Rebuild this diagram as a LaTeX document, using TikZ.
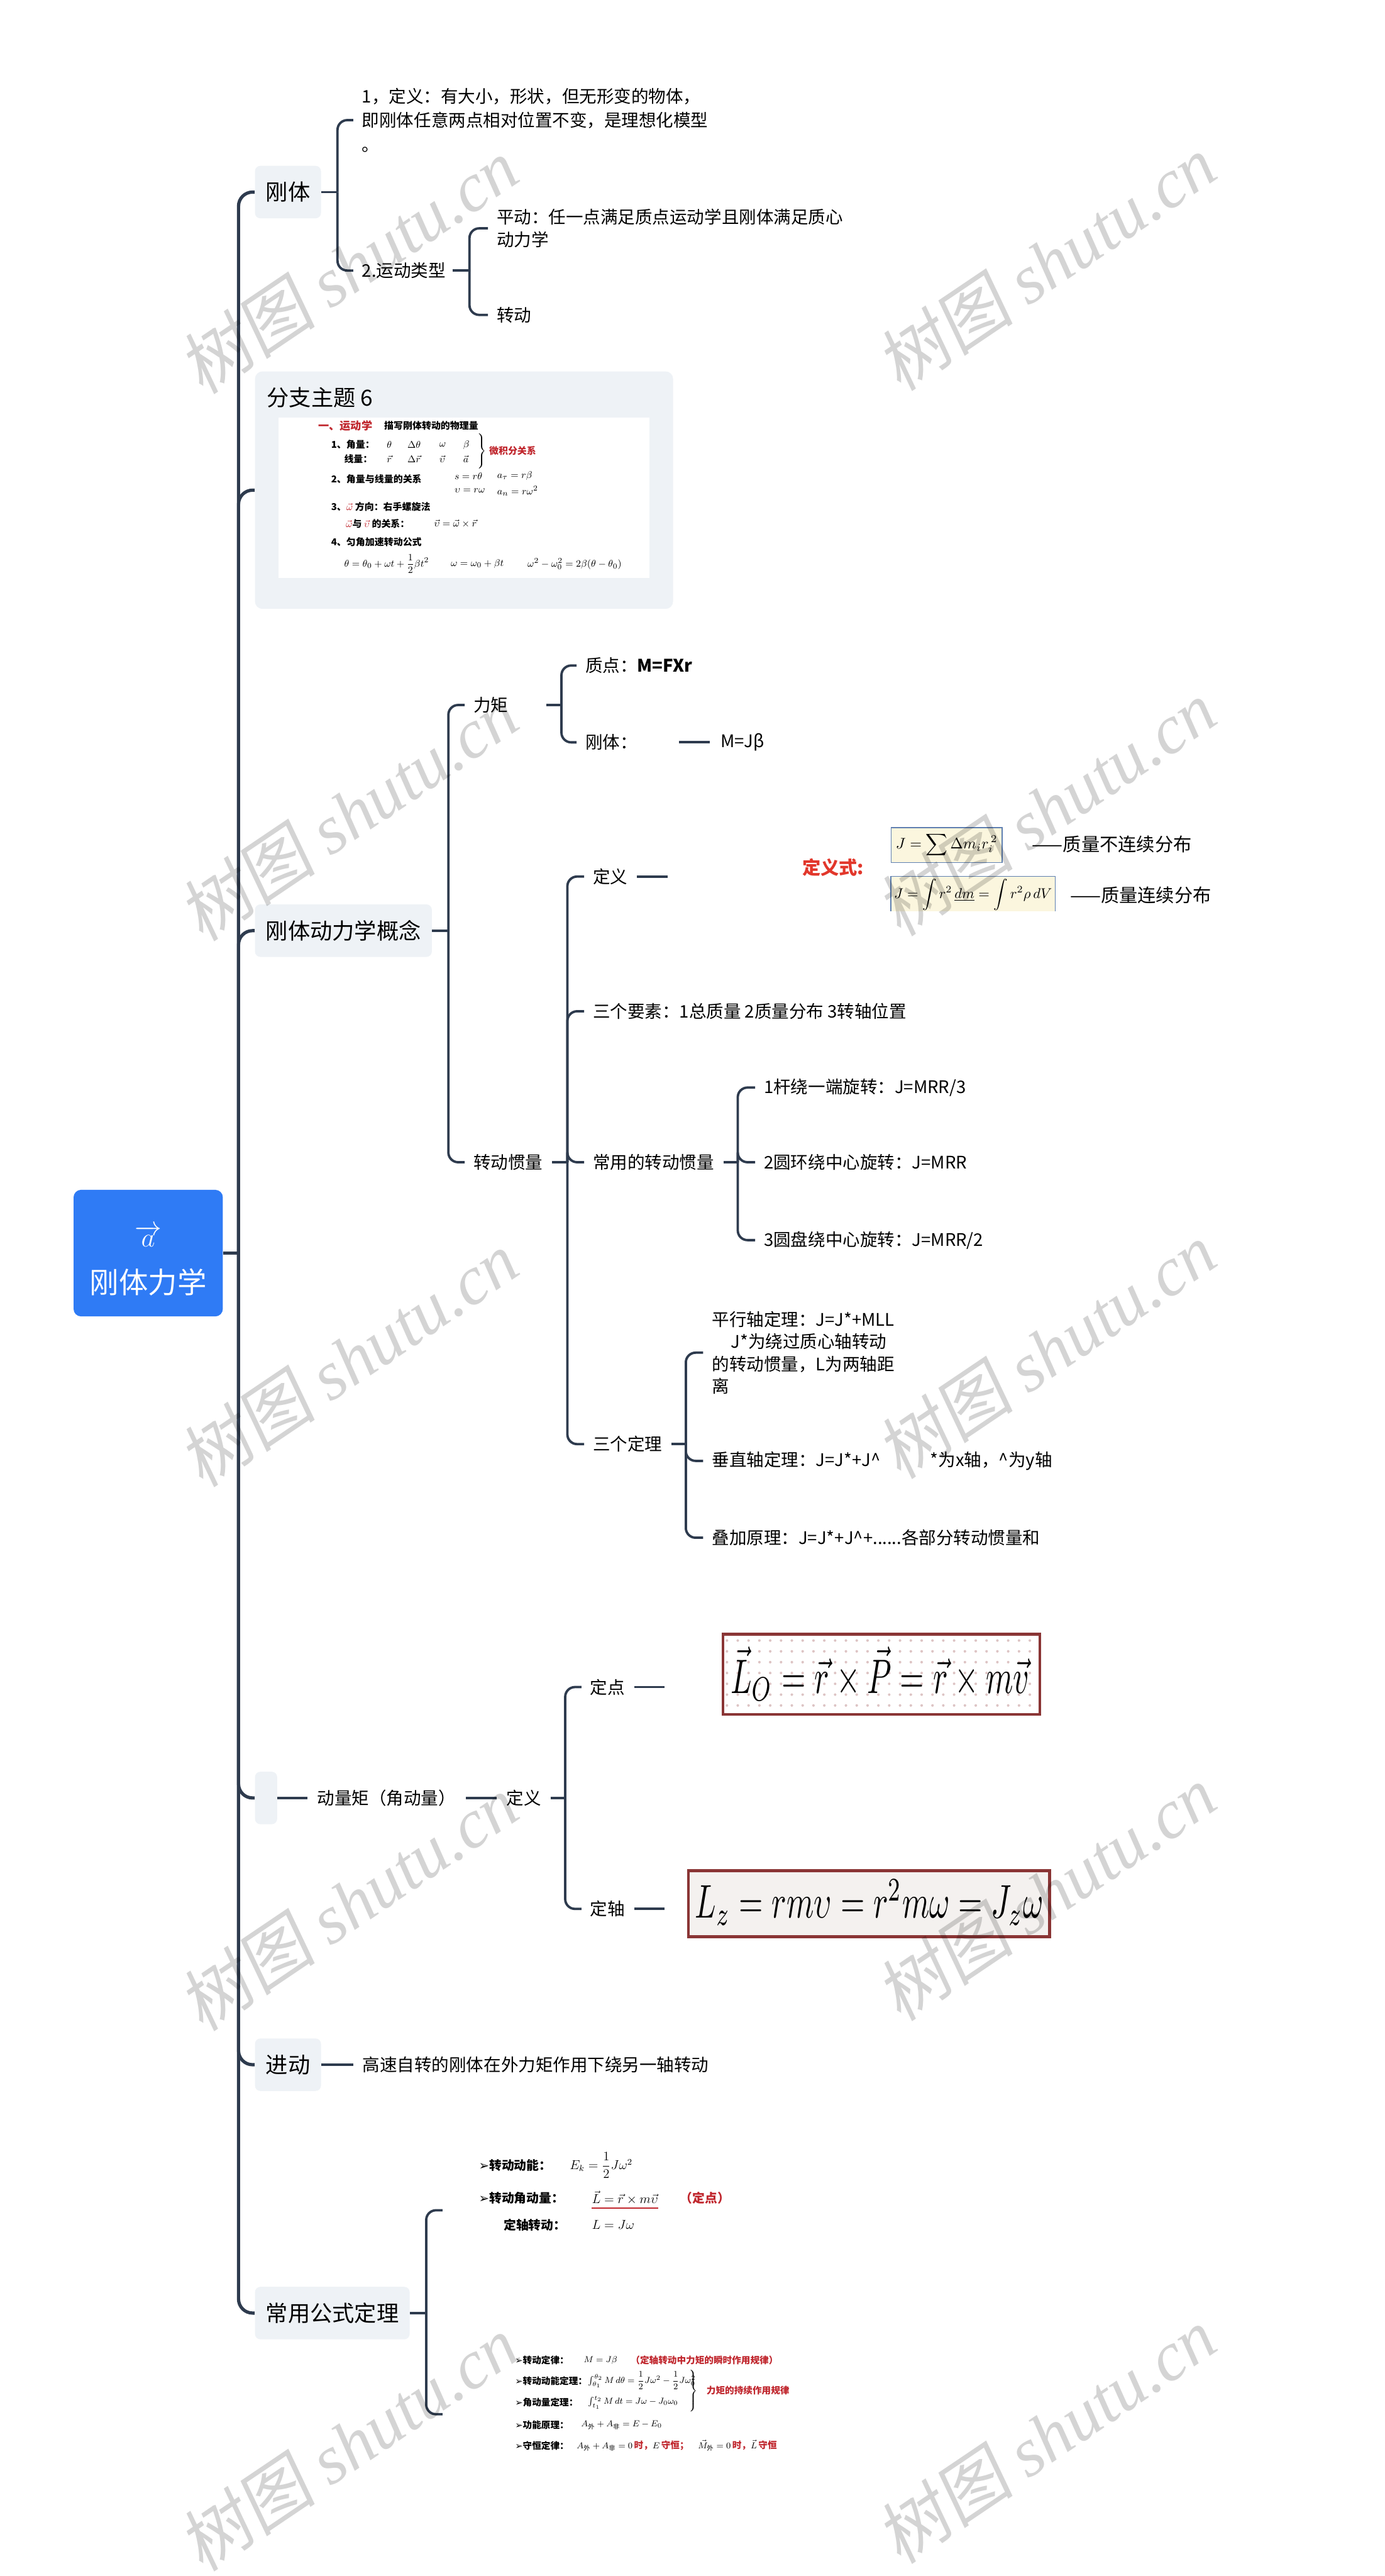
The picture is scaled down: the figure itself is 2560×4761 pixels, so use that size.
\documentclass[tikz,border=0pt]{standalone}
\usepackage{amsmath}
\usepackage{graphicx}
\usepackage{fontspec}
\setmainfont{Noto Sans CJK SC}
\newfontfamily\dejavu{DejaVu Sans}
\newfontfamily\wmlat{Liberation Serif}
\newfontfamily\wmcjk[FakeSlant=0.15]{Noto Sans CJK SC}
\usetikzlibrary{calc}
\definecolor{lineC}{HTML}{2E3B4E}
\definecolor{boxC}{HTML}{EEF2F6}
\definecolor{rootC}{HTML}{2F7BF5}
\definecolor{redC}{HTML}{C0262D}
\definecolor{redB}{HTML}{E2372B}
\definecolor{frameR}{HTML}{8A3535}
\definecolor{creamC}{HTML}{FBF6DE}
\definecolor{frameB}{HTML}{5E7FB0}
\definecolor{dotC}{HTML}{DDC4C4}
\definecolor{marbleC}{HTML}{F4F1EF}
\newcommand{\fzR}{\fontsize{27pt}{41pt}\selectfont}
\newcommand{\fzB}{\fontsize{20.5pt}{24pt}\selectfont}
\newcommand{\fzC}{\fontsize{16pt}{20.5pt}\selectfont}
\newcommand{\fzCdef}{\fontsize{16pt}{22.5pt}\selectfont}
\newcommand{\fzS}{\fontsize{8.7pt}{10pt}\selectfont}
\newcommand{\fzT}{\fontsize{10pt}{12pt}\selectfont}
\newcommand{\fzM}{\fontsize{9.5pt}{11pt}\selectfont}
\newcommand{\fzA}{\fontsize{11.5pt}{14pt}\selectfont}
\newcommand{\fzBB}{\fontsize{8.5pt}{10pt}\selectfont}
\newcommand{\fzW}{\fontsize{64pt}{70pt}\selectfont}
\newcommand{\fzD}{\fontsize{17pt}{20pt}\selectfont}
\begin{document}
\begin{tikzpicture}[x=0.5pt,y=-0.5pt,
  trunk/.style={draw=lineC, line width=3pt, rounded corners=13pt},
  conn/.style={draw=lineC, line width=2.2pt, rounded corners=9pt},
  l1box/.style={fill=boxC, rounded corners=5pt, inner xsep=10pt, inner ysep=0pt, minimum height=48.5pt, anchor=west, font=\fzB},
  txt/.style={anchor=west, inner sep=0pt, font=\fzC, align=left},
  kimg/.style={anchor=west, inner sep=0pt, font=\fzS\bfseries},
  kmath/.style={anchor=west, inner sep=0pt, font=\fzM},
  aimg/.style={anchor=west, inner sep=0pt, font=\fzA\bfseries},
  bimg/.style={anchor=west, inner sep=0pt, font=\fzBB\bfseries},
  fbox/.style={draw=frameR, line width=2.5pt, anchor=north west, inner sep=0pt}
]
\useasboundingbox (0,0) rectangle (2560,4761);
\fill[white] (0,0) rectangle (2560,4761);

% ---------- root ----------
\node[fill=rootC, rounded corners=7pt, minimum width=138pt, minimum height=117pt, inner sep=0pt] (root) at (274,2316) {};
\node[text=white, inner sep=0pt, font=\fontsize{31pt}{36pt}\selectfont] (rootA) at (274,2285) {$\overrightarrow{a}$};
\node[text=white, inner sep=0pt, font=\fzR] (rootT) at (274,2370) {刚体力学};
\coordinate (J) at (441,2316);
\draw[trunk] (root.east) -- (J);

% ---------- level 1 ----------
\node[l1box] (gt) at (471,355) {刚体};
\node[fill=boxC, rounded corners=7pt, minimum width=386.5pt, minimum height=219.5pt, anchor=north west, inner sep=0pt] (fz) at (471,686) {};
\node[anchor=west, inner sep=0pt, font=\fzB] (fzt) at (493,735) {分支主题 6};
\node[fill=white, anchor=north west, minimum width=342.5pt, minimum height=148.5pt, inner sep=0pt] (fzimg) at (515,771) {};
\node[l1box] (dl) at (471,1720) {刚体动力学概念};
\node[l1box, minimum width=20.5pt, inner xsep=0pt] (dlj) at (471,3323) {};
\node[l1box] (jd) at (471,3816) {进动};
\node[l1box] (cy) at (471,4275) {常用公式定理};

\draw[trunk] (J) -- (J |- gt.west) -- (gt.west);
\draw[trunk] (J) -- (J |- fz.west) -- (fz.west);
\draw[trunk] (J) -- (J |- dl.west) -- (dl.west);
\draw[trunk] (J) -- (J |- dlj.west) -- (dlj.west);
\draw[trunk] (J) -- (J |- jd.west) -- (jd.west);
\draw[trunk] (J) -- (J |- cy.west) -- (cy.west);

% ---------- 刚体 ----------
\coordinate (jGT) at (624,355);
\draw[conn] (gt.east) -- (jGT);
\node[txt, font=\fzCdef] (gtA) at (669,222) {1，定义：有大小，形状，但无形变的物体，\\即刚体任意两点相对位置不变，是理想化模型\\。};
\node[txt] (gtB) at (669,500) {2.运动类型};
\draw[conn] (jGT) -- (jGT |- gtA.west) -- ([xshift=-8pt]gtA.west);
\draw[conn] (jGT) -- (jGT |- gtB.west) -- ([xshift=-8pt]gtB.west);
\coordinate (jYD) at (868,500);
\draw[conn] ([xshift=6pt]gtB.east) -- (jYD);
\node[txt] (ydA) at (918,422) {平动：任一点满足质点运动学且刚体满足质心\\动力学};
\node[txt] (ydB) at (918,582) {转动};
\draw[conn] (jYD) -- (jYD |- ydA.west) -- ([xshift=-8pt]ydA.west);
\draw[conn] (jYD) -- (jYD |- ydB.west) -- ([xshift=-8pt]ydB.west);

% ---------- 分支主题 6 image ----------
\node[kimg, font=\fzT\bfseries, text=redC] (k0) at (588,787) {一、运动学};
\node[kimg] (k0b) at (710,787) {描写刚体转动的物理量};
\node[kimg] (k1) at (612,822) {1、角量：};
\node[kmath] (k1a) at (715,822) {$\theta$};
\node[kmath] (k1b) at (753,822) {$\Delta\theta$};
\node[kmath] (k1c) at (812,822) {$\omega$};
\node[kmath] (k1d) at (856,822) {$\beta$};
\node[kimg] (k2) at (636,848) {线量：};
\node[kmath] (k2a) at (715,848) {$\vec r$};
\node[kmath] (k2b) at (753,848) {$\Delta\vec r$};
\node[kmath] (k2c) at (812,848) {$\vec\upsilon$};
\node[kmath] (k2d) at (856,848) {$\vec a$};
\node[kmath] (kbr) at (880,834) {$\left.\rule[-13pt]{0pt}{26pt}\right\}$};
\node[kimg, text=redC] (kbt) at (904,833) {微积分关系};
\node[kimg] (k3) at (612,885) {2、角量与线量的关系};
\node[kmath] (k3a) at (840,880) {$s=r\theta$};
\node[kmath] (k3b) at (919,880) {$a_\tau=r\beta$};
\node[kmath] (k3c) at (840,907) {$\upsilon=r\omega$};
\node[kmath] (k3d) at (919,907) {$a_n=r\omega^2$};
\node[kimg] (k4) at (612,937) {3、\textcolor{redC}{\fzM$\vec\omega$} 方向：右手螺旋法};
\node[kimg] (k5) at (639,968) {\textcolor{redC}{\fzM$\vec\omega$}与 \textcolor{redC}{\fzM$\vec\upsilon$} 的关系：};
\node[kmath] (k5a) at (802,968) {$\vec\upsilon=\vec\omega\times\vec r$};
\node[kimg] (k6) at (612,1002) {4、匀角加速转动公式};
\node[kmath] (k6a) at (636,1042) {$\theta=\theta_0+\omega t+\dfrac{1}{2}\beta t^2$};
\node[kmath] (k6b) at (833,1042) {$\omega=\omega_0+\beta t$};
\node[kmath] (k6c) at (975,1042) {$\omega^2-\omega_0^2=2\beta(\theta-\theta_0)$};

% ---------- 刚体动力学概念 ----------
\coordinate (jDL) at (829,1720);
\draw[conn] (dl.east) -- (jDL);
\node[txt] (lj) at (875,1303) {力矩};
\node[txt] (zg) at (875,2148) {转动惯量};
\draw[conn] (jDL) -- (jDL |- lj.west) -- ([xshift=-8pt]lj.west);
\draw[conn] (jDL) -- (jDL |- zg.west) -- ([xshift=-8pt]zg.west);

\coordinate (jLJ) at (1038,1303);
\draw[conn] ([xshift=35pt]lj.east) -- (jLJ);
\node[txt] (ljA) at (1082,1230) {质点：\textbf{M=FXr}};
\node[txt] (ljB) at (1082,1372) {刚体：};
\node[txt] (ljC) at (1332,1372) {M=Jβ};
\draw[conn] (jLJ) -- (jLJ |- ljA.west) -- ([xshift=-8pt]ljA.west);
\draw[conn] (jLJ) -- (jLJ |- ljB.west) -- ([xshift=-8pt]ljB.west);
\draw[conn] ([xshift=38.5pt]ljB.east) -- ([xshift=-10pt]ljC.west);

\coordinate (jZG) at (1049,2148);
\draw[conn] ([xshift=8.5pt]zg.east) -- (jZG);
\node[txt] (dy) at (1096,1620) {定义};
\node[txt] (ys) at (1096,1869) {三个要素：1总质量 2质量分布 3转轴位置};
\node[txt] (cyg) at (1096,2148) {常用的转动惯量};
\node[txt] (sd) at (1096,2669) {三个定理};
\draw[conn] (jZG) -- (jZG |- dy.west) -- ([xshift=-8pt]dy.west);
\draw[conn] (jZG) -- (jZG |- ys.west) -- ([xshift=-8pt]ys.west);
\draw[conn] (jZG) -- (jZG |- cyg.west) -- ([xshift=-8pt]cyg.west);
\draw[conn] (jZG) -- (jZG |- sd.west) -- ([xshift=-8pt]sd.west);

% 定义 image
\node[anchor=west, inner sep=0pt, minimum width=500pt, minimum height=85pt] (dyImg) at (1250,1612) {};
\draw[conn] ([xshift=8.5pt]dy.east) -- ([xshift=-8pt]dy.east -| dyImg.west);
\node[anchor=west, inner sep=0pt, text=redB, font=\fzD\bfseries] (dys) at (1483,1603) {定义式:};
\node[draw=frameB, fill=creamC, line width=0.8pt, anchor=north west, minimum width=102.5pt, minimum height=32pt, inner sep=0pt] (dyb1) at (1647,1529) {};
\node[inner sep=0pt] (dyf1) at (dyb1.center) {\resizebox{94pt}{!}{$\displaystyle J=\sum\Delta m_i r_i^{\,2}$}};
\fill[creamC] (1647,1620) rectangle (1951,1684);
\draw[frameB, line width=0.8pt] (1647,1684) -- (1647,1620) -- (1951,1620) -- (1951,1684);
\node[inner sep=0pt] (dyf2) at (1799,1654) {\resizebox{146pt}{!}{$\displaystyle J=\int r^2\,{\color{redB}\underline{\color{black}dm}}=\int r^2\rho\, dV$}};
\node[anchor=west, inner sep=0pt, font=\fzD] (dyt1) at (1908,1560) {——质量不连续分布};
\node[anchor=west, inner sep=0pt, font=\fzD] (dyt2) at (1978,1655) {——质量连续分布};

% 常用的转动惯量
\coordinate (jCYG) at (1364,2148);
\draw[conn] ([xshift=8.5pt]cyg.east) -- (jCYG);
\node[txt] (cg1) at (1412,2010) {1杆绕一端旋转：J=MRR/3};
\node[txt] (cg2) at (1412,2148) {2圆环绕中心旋转：J=MRR};
\node[txt] (cg3) at (1412,2292) {3圆盘绕中心旋转：J=MRR/2};
\draw[conn] (jCYG) -- (jCYG |- cg1.west) -- ([xshift=-8pt]cg1.west);
\draw[conn] (jCYG) -- (jCYG |- cg2.west) -- ([xshift=-8pt]cg2.west);
\draw[conn] (jCYG) -- (jCYG |- cg3.west) -- ([xshift=-8pt]cg3.west);

% 三个定理
\coordinate (jSD) at (1268,2669);
\draw[conn] ([xshift=8pt]sd.east) -- (jSD);
\node[txt] (sdA) at (1316,2500) {平行轴定理：J=J*+MLL\\\hspace*{17.5pt}J*为绕过质心轴转动\\的转动惯量，L为两轴距\\离};
\node[txt] (sdB) at (1316,2700) {垂直轴定理：J=J*+J\textasciicircum\hspace{46pt}*为x轴，\textasciicircum 为y轴};
\node[txt] (sdC) at (1316,2842) {叠加原理：J=J*+J\textasciicircum+......各部分转动惯量和};
\draw[conn] (jSD) -- (jSD |- sdA.west) -- ([xshift=-8pt]sdA.west);
\draw[conn] (jSD) -- (jSD |- sdB.west) -- ([xshift=-8pt]sdB.west);
\draw[conn] (jSD) -- (jSD |- sdC.west) -- ([xshift=-8pt]sdC.west);

% ---------- 动量矩 ----------
\node[txt] (dlm) at (586,3323) {动量矩（角动量）};
\draw[conn] (dlj.east) -- ([xshift=-9pt]dlm.west);
\node[txt] (dlmD) at (936,3323) {定义};
\draw[conn] ([xshift=9.5pt]dlm.east) -- ([xshift=-9pt]dlmD.west);
\coordinate (jDLM) at (1045,3323);
\draw[conn] ([xshift=8.5pt]dlmD.east) -- (jDLM);
\node[txt] (ddA) at (1091,3118) {定点};
\node[txt] (ddB) at (1091,3528) {定轴};
\draw[conn] (jDLM) -- (jDLM |- ddA.west) -- ([xshift=-8pt]ddA.west);
\draw[conn] (jDLM) -- (jDLM |- ddB.west) -- ([xshift=-8pt]ddB.west);

\node[fbox, fill=white, minimum width=293pt, minimum height=74pt] (fbA) at (1334,3018) {};
\foreach \i in {0,...,28}{\foreach \j in {0,...,6}{\fill[dotC] ({1344+\i*20},{3032+\j*20}) circle[radius=1.2pt];}}
\node[inner sep=0pt] (ffA) at (1627,3093) {\resizebox*{276pt}{50pt}{$\vec{L}_O=\vec{r}\times\vec{P}=\vec{r}\times m\vec{v}$}};
\draw[conn] ([xshift=8.5pt]ddA.east) -- ([xshift=-52.5pt]ddA.east -| fbA.west);

\node[fbox, fill=marbleC, minimum width=334pt, minimum height=61pt] (fbB) at (1270,3455) {};
\node[inner sep=0pt] (ffB) at (1607,3516) {\resizebox*{322pt}{42pt}{$L_z=rm\upsilon=r^2m\omega=J_z\omega$}};
\draw[conn] ([xshift=8.5pt]ddB.east) -- ([xshift=-20.5pt]ddB.east -| fbB.west);

% ---------- 进动 ----------
\node[txt] (jdA) at (670,3816) {高速自转的刚体在外力矩作用下绕另一轴转动};
\draw[conn] (jd.east) -- ([xshift=-8.5pt]jdA.west);

% ---------- 常用公式定理 ----------
\coordinate (jCY) at (788,4275);
\draw[conn] (cy.east) -- (jCY);
\node[inner sep=0pt, minimum width=1pt, minimum height=1pt, anchor=west] (gsA) at (834,4085) {};
\node[inner sep=0pt, minimum width=1pt, minimum height=1pt, anchor=west] (gsB) at (834,4462) {};
\draw[conn] (jCY) -- (jCY |- gsA.west) -- ([xshift=-8pt]gsA.west);
\draw[conn] (jCY) -- (jCY |- gsB.west) -- ([xshift=-8pt]gsB.west);

\node[aimg] (aa1) at (885,4002) {{\dejavu\mdseries ➢}转动动能：};
\node[aimg, font=\fzA] (aa1f) at (1053,4002) {$E_k=\dfrac{1}{2}J\omega^2$};
\node[aimg] (aa2) at (885,4062) {{\dejavu\mdseries ➢}转动角动量：};
\node[aimg, font=\fzA] (aa2f) at (1094,4062) {$\vec L=\vec r\times m\vec\upsilon$};
\draw[redC, line width=1.3pt] ([yshift=-3pt]aa2f.south west) -- ([yshift=-3pt]aa2f.south east);
\node[aimg, text=redC] (aa2r) at (1257,4062) {（定点）};
\node[aimg] (aa3) at (931,4112) {定轴转动：};
\node[aimg, font=\fzA] (aa3f) at (1094,4112) {$L=J\omega$};

\node[bimg] (bb1) at (952,4362) {{\dejavu\mdseries ➢}转动定律：};
\node[bimg, font=\fzBB] (bb1f) at (1079,4362) {$M=J\beta$};
\node[bimg, text=redC] (bb1r) at (1166,4362) {（定轴转动中力矩的瞬时作用规律）};
\node[bimg] (bb2) at (952,4400) {{\dejavu\mdseries ➢}转动动能定理：};
\node[bimg, font=\fzBB] (bb2f) at (1087,4400) {$\int_{\theta_1}^{\theta_2}M\,d\theta=\dfrac{1}{2}J\omega^2-\dfrac{1}{2}J\omega_0^2$};
\node[bimg] (bb3) at (952,4440) {{\dejavu\mdseries ➢}角动量定理：};
\node[bimg, font=\fzBB] (bb3f) at (1087,4440) {$\int_{t_1}^{t_2}M\,dt=J\omega-J_0\omega_0$};
\node[inner sep=0pt, font=\fzBB] (bbr) at (1281,4420) {$\left.\rule[-18pt]{0pt}{36pt}\right\}$};
\node[bimg, text=redC] (bbrt) at (1306,4418) {力矩的持续作用规律};
\node[bimg] (bb4) at (952,4482) {{\dejavu\mdseries ➢}功能原理：};
\node[bimg, font=\fzBB] (bb4f) at (1074,4482) {$A_{\text{外}}+A_{\text{非}}=E-E_0$};
\node[bimg] (bb5) at (952,4520) {{\dejavu\mdseries ➢}守恒定律：};
\node[bimg] (bb5f) at (1066,4520) {{\mdseries$A_{\text{外}}+A_{\text{非}}=0$}\,\textcolor{redC}{时，}{\mdseries$E$}\,\textcolor{redC}{守恒；}\quad{\mdseries$\vec M_{\text{外}}=0$}\,\textcolor{redC}{时，}{\mdseries$\vec L$}\,\textcolor{redC}{守恒}};

% ---------- watermarks ----------
\foreach \wx/\wy [count=\k] in {644/492, 1934/486, 644/1503, 1934/1494, 644/2512, 1934/2496, 644/3517, 1934/3499, 644/4516, 1934/4501}{
  \node[rotate=34, text=black, text opacity=0.17, inner sep=0pt, font=\fzW] (wm\k) at (\wx,\wy) {{\wmcjk 树图} {\wmlat\itshape shutu.cn}};
}
\end{tikzpicture}
\end{document}
